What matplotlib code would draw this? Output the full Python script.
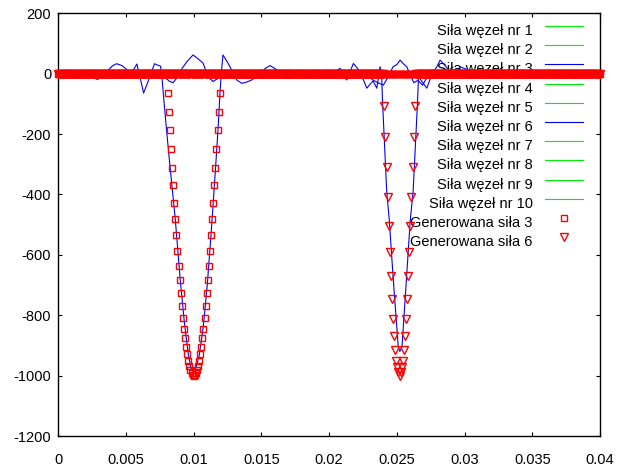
import numpy as np
import matplotlib
matplotlib.use("Agg")
import matplotlib.pyplot as plt

plt.rcParams['font.family'] = ['Liberation Sans', 'DejaVu Sans']

# ---------------- data ----------------
x_ticks = [0, 0.005, 0.01, 0.015, 0.02, 0.025, 0.03, 0.035, 0.04]
x_tick_labels = ['0', '0.005', '0.01', '0.015', '0.02', '0.025', '0.03', '0.035', '0.04']
y_ticks = [200, 0, -200, -400, -600, -800, -1000, -1200]
y_tick_labels = ['200', '0', '-200', '-400', '-600', '-800', '-1000', '-1200']

# measured force, node 3 (time in ms, force)
node3_t_ms = [0, 1.4, 1.7, 2.0, 2.3, 2.6, 2.9, 3.3, 3.7, 4.0, 4.3, 4.7, 5.1, 5.45, 5.8,
              6.05, 6.3, 6.55, 6.8, 7.1, 7.35, 7.55, 7.65, 7.75, 8.0, 8.25, 8.62, 9.0,
              9.3, 9.6, 9.8, 9.97, 10.15, 10.4, 10.7, 11.0, 11.3, 11.6, 11.8, 11.94,
              12.05, 12.16, 12.4, 12.68, 12.95, 13.18, 13.55, 13.9, 14.28, 14.9, 15.3,
              15.64, 16.13, 16.87, 22.8, 23.2, 23.6, 24.0, 24.3, 24.72, 25.0, 25.24,
              25.5, 25.73, 26.0, 26.25, 26.55, 26.9, 27.3, 27.7, 28.2, 40.0]
node3_f = [0, 0, -8, -16, -12, -14, -19, -6, 12, 26, 33, 27, 12, 5, 32,
           -15, -64, -35, -5, 33, 28, 25, -10, -64, -190, -308, -473, -680,
           -820, -930, -975, -987, -975, -935, -840, -700, -520, -320, -180, -64,
           10, 62, 45, 23, -5, -21, -32, -28, -21, 0, 18,
           27, 13, 0, 0, -20, -30, -38, -15, 23, 30, 45,
           32, 23, -5, -30, -22, -38, -5, 5, 0, 0]

# measured force, node 6 (time in ms, force)
node6_t_ms = [0, 7.7, 7.9, 8.2, 8.47, 8.8, 9.1, 9.5, 9.95, 10.3, 10.69, 11.06, 11.43,
              11.8, 12.1, 20.3, 20.8, 21.3, 21.79, 22.28, 22.78, 23.02, 23.24, 23.52,
              23.76, 23.87, 23.95, 24.25, 24.45, 24.72, 25.1, 25.22, 25.38, 25.72,
              25.98, 26.2, 26.52, 26.6, 26.84, 27.21, 27.6, 27.95, 28.19, 28.56, 28.93,
              29.3, 29.67, 30.1, 30.41, 31.0, 40.0]
node6_f = [0, 0, -13, -25, -30, -12, 15, 40, 62, 50, 35, -10, -26,
           -15, 0, 0, 18, -21, 34, 7, -48, -35, -24, -48,
           23, 0, -100, -390, -490, -672, -904, -920, -904, -672,
           -490, -390, -100, -10, -25, -48, 0, 23, 45, 27, 5,
           -8, 23, 15, 10, 0, 0]

# remaining nodes stay at (about) zero
other_nodes = [1, 2, 4, 5, 7, 8, 9, 10]
other_t_ms = [0.0, 40.0]
other_f = [0.0, 0.0]

# generated forces: sampled every 0.08 ms, zero except a pulse
sample_step_ms = 0.08
n_samples = 501
gen3_start_index = 101
gen3_pulse = [-64, -126, -188, -250, -311, -369, -427, -482, -535, -588, -638, -684,
              -728, -770, -808, -844, -876, -904, -928, -950, -967, -981, -992, -998,
              -1000,
              -998, -992, -981, -967, -950, -928, -904, -876, -844, -808, -770, -728,
              -684, -638, -588, -535, -482, -427, -369, -311, -250, -188, -126, -64]
gen6_start_index = 301
gen6_pulse = [-106, -211, -310, -407, -503, -591, -669, -746, -812, -869, -914, -950,
              -972, -989, -1000, -989, -972, -950, -914, -869, -812, -746, -669, -591,
              -503, -407, -310, -211, -106]

# ---------------- build ----------------
t_gen = np.arange(n_samples) * sample_step_ms * 1e-3
gen3 = np.zeros(n_samples)
gen3[gen3_start_index:gen3_start_index + len(gen3_pulse)] = gen3_pulse
gen6 = np.zeros(n_samples)
gen6[gen6_start_index:gen6_start_index + len(gen6_pulse)] = gen6_pulse

GREEN = '#00ee00'
BLUE = '#0000ff'
RED = '#ff0000'

fig = plt.figure(figsize=(6.18, 4.69), dpi=100)
L, R, T, B = 58.3, 600.0, 13.3, 436.0
W, H = 618.0, 469.0
ax = fig.add_axes([L / W, 1 - B / H, (R - L) / W, (B - T) / H])

series = []
for n in [1, 2, 3, 4, 5, 6, 7, 8, 9, 10]:
    label = 'Siła węzeł nr %d' % n
    if n == 3:
        ax.plot(np.array(node3_t_ms) * 1e-3, node3_f, color=BLUE, lw=0.8, zorder=3)
        series.append((label, dict(color=BLUE, lw=0.8), None))
    elif n == 6:
        ax.plot(np.array(node6_t_ms) * 1e-3, node6_f, color=BLUE, lw=0.8, zorder=3)
        series.append((label, dict(color=BLUE, lw=0.8), None))
    else:
        ax.plot(np.array(other_t_ms) * 1e-3, other_f, color=GREEN, lw=0.8, zorder=2)
        series.append((label, dict(color=GREEN, lw=0.8), None))

mk3 = dict(marker='s', ms=5.0, mfc='none', mec=RED, mew=1.0, ls='none')
mk6 = dict(marker='v', ms=6.4, mfc='none', mec=RED, mew=1.0, ls='none')
ax.plot(t_gen, gen3, zorder=4, clip_on=False, **mk3)
ax.plot(t_gen, gen6, zorder=4, clip_on=False, **mk6)
series.append(('Generowana siła 3', None, mk3))
series.append(('Generowana siła 6', None, mk6))

ax.set_xlim(0, 0.04)
ax.set_ylim(-1200, 200)
ax.set_xticks(x_ticks)
ax.set_xticklabels(x_tick_labels)
ax.set_yticks(y_ticks)
ax.set_yticklabels(y_tick_labels)
ax.tick_params(direction='in', length=3, width=0.8, top=True, right=True,
               labelsize=10.5, colors='black')
ax.tick_params(axis='x', pad=12)
ax.tick_params(axis='y', pad=5)
for s in ax.spines.values():
    s.set_linewidth(1.0)
    s.set_color('black')

# gnuplot-style key (text right-aligned, sample on the right)
def fx(px):
    return (px - L) / (R - L)

def fy(py):
    return (B - py) / (B - T)

for i, (label, lstyle, mstyle) in enumerate(series):
    py = 26.0 + 19.2 * i
    ax.text(fx(532.7), fy(py + 9.0), label, transform=ax.transAxes, ha='right',
            va='baseline', fontsize=10.5, zorder=1)
    if lstyle is not None:
        ax.plot([fx(545), fx(582.7)], [fy(py), fy(py)], transform=ax.transAxes,
                clip_on=False, zorder=1, **lstyle)
    else:
        ax.plot([fx(564)], [fy(py)], transform=ax.transAxes, clip_on=False,
                zorder=1, **mstyle)

fig.savefig('out.png', dpi=100)
